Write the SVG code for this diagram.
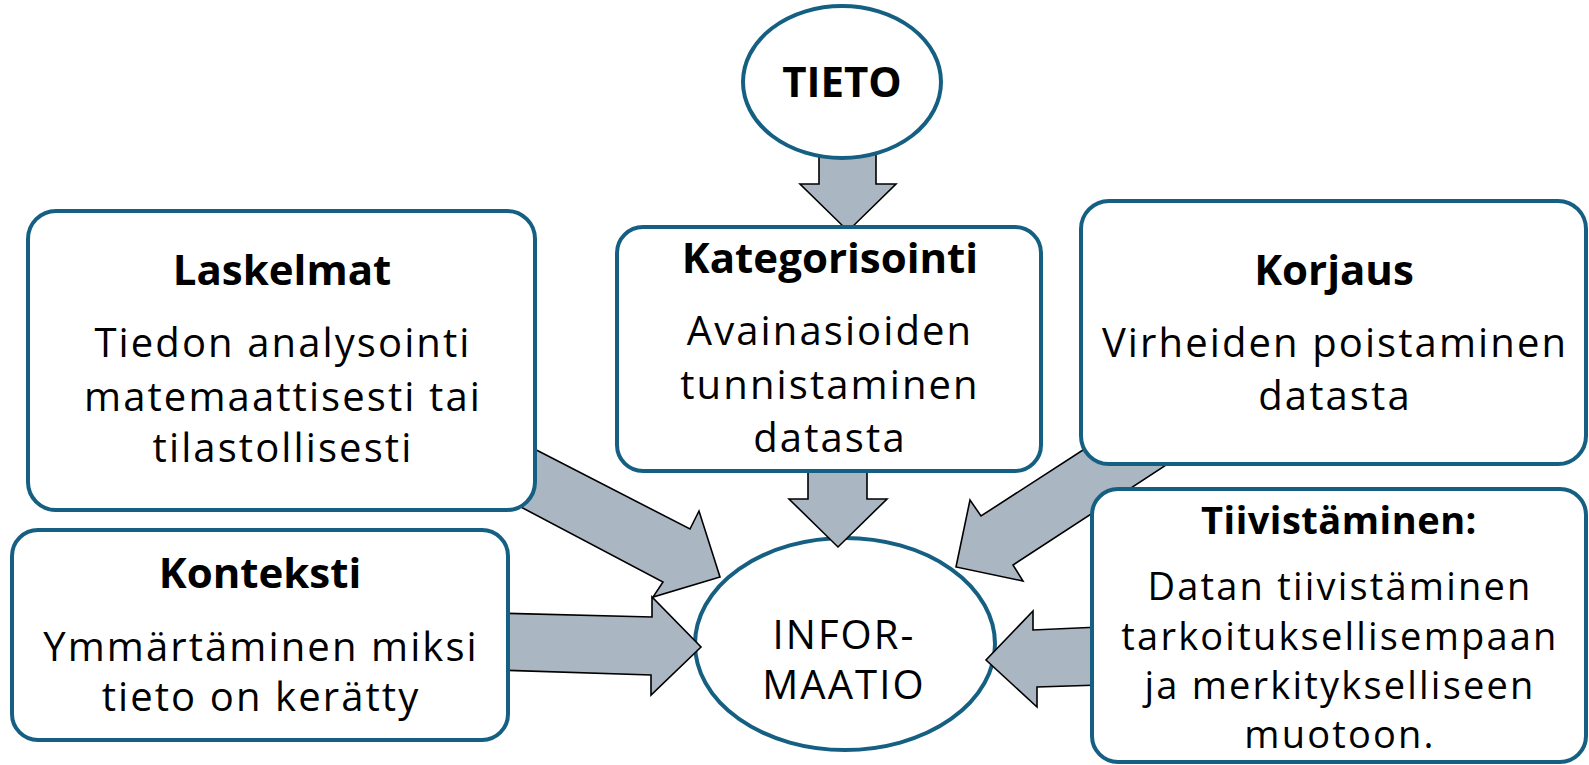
<svg xmlns="http://www.w3.org/2000/svg" width="1589" height="765" viewBox="0 0 1589 765">
<style>
.box{fill:#fff;stroke:#156082;stroke-width:4}
.arr{fill:#AAB7C3;stroke:#000;stroke-width:1.6;stroke-linejoin:miter}
.h{font-family:"Open Sans","Liberation Sans",sans-serif;font-weight:700;font-size:42px;text-anchor:middle;fill:#000}
.b{font-family:"Open Sans","Liberation Sans",sans-serif;font-size:40px;letter-spacing:2.1px;text-anchor:middle;fill:#000}
.hs{font-family:"Open Sans","Liberation Sans",sans-serif;font-weight:700;font-size:38px;letter-spacing:0.5px;text-anchor:middle;fill:#000}
.bs{font-family:"Open Sans","Liberation Sans",sans-serif;font-size:38px;letter-spacing:2.2px;text-anchor:middle;fill:#000}
</style>
<rect width="1589" height="765" fill="#fff"/>
<g id="informaatio">
<ellipse class="box" cx="845" cy="644" rx="150" ry="106"/>
<text class="b" x="844" y="649" font-size="41">INFOR-</text>
<text class="b" x="844" y="699" font-size="41">MAATIO</text>
</g>
<g id="connectors">
<polygon class="arr" points="819,140 876,140 876,184 896,184 848,231 800,184 819,184"/>
<polygon class="arr" points="808,460 867,460 867,499 887,499 838,547 789,499 808,499"/>
<polygon class="arr" points="515,439 690,529 699,511 720,577 653,597 663,582 500,496"/>
<polygon class="arr" points="495,613 652,617 652,597 701,647 651,695 651,675 495,670"/>
<polygon class="arr" points="1100,439 981,516 970,500 956,567 1023,581 1013,565 1180,456"/>
<polygon class="arr" points="1100,627 1033,630 1033,611 986,660 1037,707 1037,687 1100,685"/>
</g>
<g id="tieto">
<ellipse class="box" cx="842" cy="82" rx="99" ry="76"/>
<text class="h" x="842" y="97" font-size="44">TIETO</text>
</g>
<g id="kategorisointi">
<rect class="box" x="617" y="227" width="424" height="244" rx="26"/>
<text class="h" x="830" y="273">Kategorisointi</text>
<text class="b" x="830" y="345">Avainasioiden</text>
<text class="b" x="830" y="399">tunnistaminen</text>
<text class="b" x="830" y="452">datasta</text>
</g>
<g id="laskelmat">
<rect class="box" x="28" y="211" width="507" height="299" rx="28"/>
<text class="h" x="282" y="285">Laskelmat</text>
<text class="b" x="283" y="357">Tiedon analysointi</text>
<text class="b" x="283" y="411">matemaattisesti tai</text>
<text class="b" x="283" y="462">tilastollisesti</text>
</g>
<g id="korjaus">
<rect class="box" x="1081" y="201" width="505" height="263" rx="28"/>
<text class="h" x="1334" y="285">Korjaus</text>
<text class="b" x="1335" y="357">Virheiden poistaminen</text>
<text class="b" x="1335" y="410">datasta</text>
</g>
<g id="konteksti">
<rect class="box" x="12" y="530" width="496" height="210" rx="26"/>
<text class="h" x="260" y="588">Konteksti</text>
<text class="b" x="261" y="661">Ymmärtäminen miksi</text>
<text class="b" x="261" y="711">tieto on kerätty</text>
</g>
<g id="tiivistaminen">
<rect class="box" x="1092" y="489" width="494" height="273" rx="26"/>
<text class="hs" x="1339" y="534">Tiivistäminen:</text>
<text class="bs" x="1340" y="600">Datan tiivistäminen</text>
<text class="bs" x="1340" y="650">tarkoituksellisempaan</text>
<text class="bs" x="1340" y="699">ja merkitykselliseen</text>
<text class="bs" x="1340" y="748">muotoon.</text>
</g>
</svg>
